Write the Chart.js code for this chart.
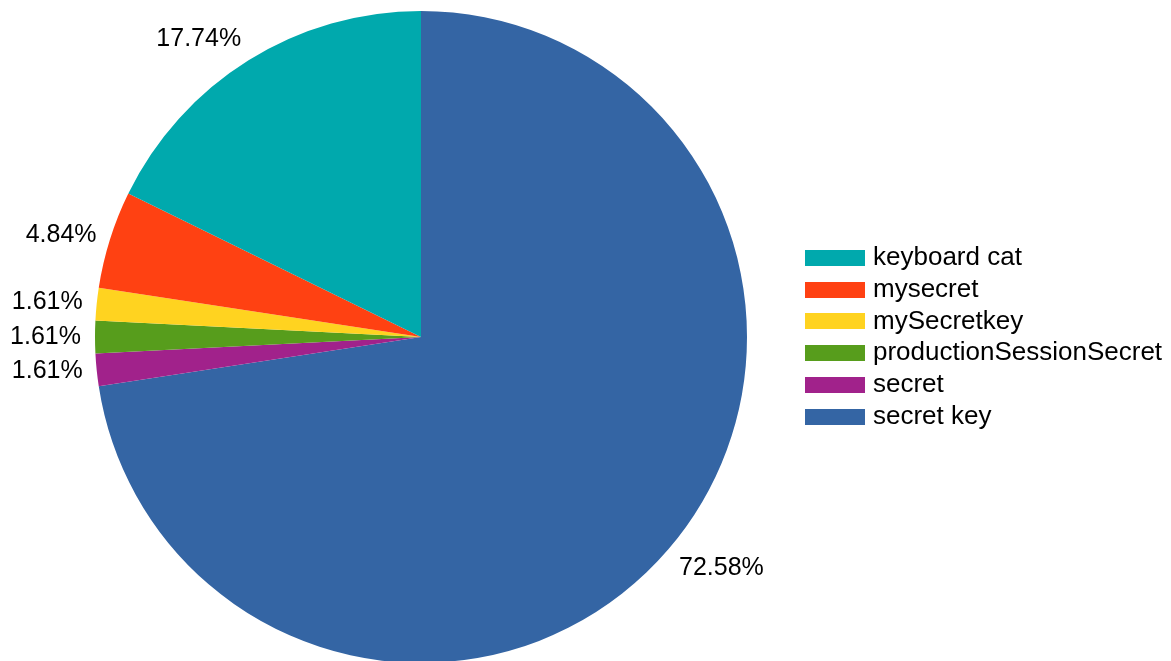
<!DOCTYPE html>
<html>
<head>
<meta charset="utf-8">
<script src="https://cdn.jsdelivr.net/npm/chart.js@4/dist/chart.umd.min.js"></script>
<style>
  html, body { margin: 0; padding: 0; background: #fff; overflow: hidden; }
  #wrap { position: absolute; left: 0; top: 0; width: 1171px; height: 674px; }
</style>
</head>
<body>
<div id="wrap"><canvas id="c" width="1171" height="674"></canvas></div>
<script>
// Data (legend order)
const categories = ["keyboard cat", "mysecret", "mySecretkey", "productionSessionSecret", "secret", "secret key"];
const counts = [11, 3, 1, 1, 1, 45];
const colors = ["#00a9ad", "#ff4112", "#ffd320", "#579d1c", "#a1228b", "#3465a4"];

// Slices run counter-clockwise in the reference; feed reversed order to a clockwise pie.
const sliceLabels = categories.slice().reverse();
const sliceValues = counts.slice().reverse();
const sliceColors = colors.slice().reverse();

const FONT = '"Liberation Sans", Arial, sans-serif';

const outsideLabels = {
  id: 'outsideLabels',
  afterDatasetsDraw(chart) {
    const ctx = chart.ctx;
    const meta = chart.getDatasetMeta(0);
    const data = chart.data.datasets[0].data;
    const total = data.reduce((a, b) => a + b, 0);
    ctx.save();
    ctx.font = '25px ' + FONT;
    ctx.fillStyle = '#000';
    meta.data.forEach((arc, i) => {
      const p = arc.getProps(['startAngle', 'endAngle', 'x', 'y', 'outerRadius'], true);
      const mid = (p.startAngle + p.endAngle) / 2;
      const dx = Math.cos(mid), dy = Math.sin(mid);
      const r = p.outerRadius + 14;
      const px = p.x + dx * r, py = p.y + dy * r;
      ctx.textAlign = Math.abs(dx) < 0.1 ? 'center' : (dx < 0 ? 'right' : 'left');
      ctx.textBaseline = Math.abs(dy) < 0.5 ? 'middle' : (dy < 0 ? 'bottom' : 'top');
      const txt = (data[i] / total * 100).toFixed(2) + '%';
      let oy = 0;
      if (ctx.textBaseline === 'bottom') oy = 3;
      if (ctx.textBaseline === 'top') oy = -3;
      if (ctx.textBaseline === 'middle') oy = 0;
      ctx.fillText(txt, px, py + oy);
    });
    ctx.restore();
  }
};

const sideLegend = {
  id: 'sideLegend',
  afterDraw(chart) {
    const ctx = chart.ctx;
    ctx.save();
    ctx.font = '26px ' + FONT;
    ctx.textBaseline = 'middle';
    ctx.textAlign = 'left';
    const x0 = 805, y0 = 250, step = 31.7, bw = 60, bh = 16;
    categories.forEach((name, i) => {
      const y = y0 + i * step;
      ctx.fillStyle = colors[i];
      ctx.fillRect(x0, Math.round(y), bw, bh);
      ctx.fillStyle = '#000';
      ctx.fillText(name, x0 + 68, y + bh / 2);
    });
    ctx.restore();
  }
};

new Chart(document.getElementById('c'), {
  type: 'pie',
  data: {
    labels: sliceLabels,
    datasets: [{
      data: sliceValues,
      backgroundColor: sliceColors,
      borderWidth: 0,
      hoverOffset: 0
    }]
  },
  options: {
    responsive: false,
    animation: false,
    rotation: 0,
    layout: { padding: { left: 95, right: 424, top: 11, bottom: 11 } },
    plugins: {
      legend: { display: false },
      tooltip: { enabled: false },
      title: { display: false }
    }
  },
  plugins: [outsideLabels, sideLegend]
});
</script>
</body>
</html>
